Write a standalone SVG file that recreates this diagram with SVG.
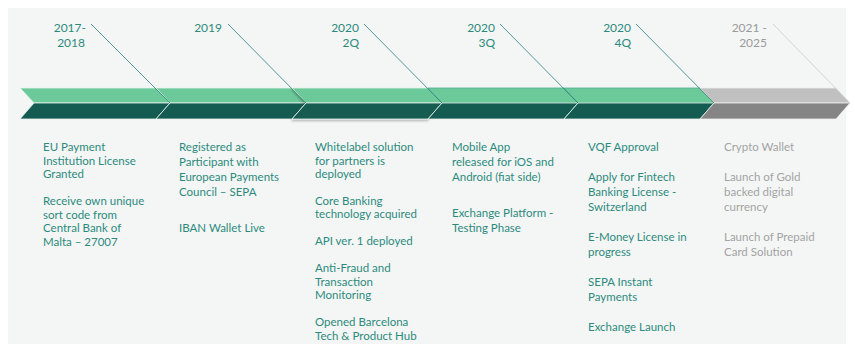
<svg xmlns="http://www.w3.org/2000/svg" width="855" height="344" viewBox="0 0 855 344">
<defs>
<style>
.lbl{font-family:Lato,"Noto Sans","Liberation Sans",sans-serif;font-size:12px;fill:#2c8a7c;text-anchor:end}
.lblg{font-family:Lato,"Noto Sans","Liberation Sans",sans-serif;font-size:12px;fill:#9a9a9a;text-anchor:end}
.txt{font-family:Lato,"Noto Sans","Liberation Sans",sans-serif;font-size:11.5px;fill:#2c8a7c}
.txtg{font-family:Lato,"Noto Sans","Liberation Sans",sans-serif;font-size:11.5px;fill:#a3a3a3}
.top{fill:#6cc99a;stroke:#e8f4ee;stroke-width:0.8}
.bot{fill:#145b51;stroke:#e8f4ee;stroke-width:0.8}
.topg{fill:#c0c0c0;stroke:#eeeeee;stroke-width:0.8}
.botg{fill:#858585;stroke:#eeeeee;stroke-width:0.8}
.ln{stroke:#2f7f74;stroke-width:0.8;fill:none}
.lng{stroke:#cccccc;stroke-width:0.8;fill:none}
</style>
<filter id="sh" x="-10%" y="-20%" width="120%" height="150%">
<feDropShadow dx="-0.5" dy="1.5" stdDeviation="0.8" flood-color="#000" flood-opacity="0.3"/>
</filter>
</defs>
<rect x="8" y="8" width="838" height="336" fill="#f4f6f6"/>

<g id="seg1">
<polygon class="top" points="20,88 156,88 170,103 34,103"/>
<polygon class="bot" points="34,103 170,103 156,119 20,119"/>
</g>
<g id="seg2">
<polygon class="top" points="156,88 292,88 306,103 170,103"/>
<polygon class="bot" points="170,103 306,103 292,119 156,119"/>
</g>
<g id="seg3" filter="url(#sh)">
<polygon class="top" points="292,88 428,88 442,103 306,103"/>
<polygon class="bot" points="306,103 442,103 428,119 292,119"/>
</g>
<g id="seg4">
<polygon class="top" points="428,88 564,88 578,103 442,103" style="stroke:#4fae92"/>
<polygon class="bot" points="442,103 578,103 564,119 428,119"/>
</g>
<g id="seg5">
<polygon class="top" points="564,88 700,88 714,103 578,103" style="stroke:#4fae92"/>
<polygon class="bot" points="578,103 714,103 700,119 564,119"/>
</g>
<g id="seg6">
<polygon class="topg" points="700,88 836,88 850,103 714,103"/>
<polygon class="botg" points="714,103 850,103 836,119 700,119"/>
</g>

<g id="connectors">
<line class="ln" x1="91" y1="24" x2="170" y2="103"/>
<line class="ln" x1="228" y1="24" x2="306" y2="103"/>
<line class="ln" x1="364" y1="24" x2="442" y2="103"/>
<line class="ln" x1="500" y1="24" x2="578" y2="103"/>
<line class="ln" x1="636" y1="24" x2="714" y2="103"/>
<line class="lng" x1="773" y1="24" x2="850" y2="103"/>
</g>

<g id="label1"><text class="lbl" x="86" y="32">2017-</text><text class="lbl" x="85" y="47">2018</text></g>
<g id="label2"><text class="lbl" x="222" y="32">2019</text></g>
<g id="label3"><text class="lbl" x="359" y="32">2020</text><text class="lbl" x="359" y="47">2Q</text></g>
<g id="label4"><text class="lbl" x="495" y="32">2020</text><text class="lbl" x="495" y="47">3Q</text></g>
<g id="label5"><text class="lbl" x="631" y="32">2020</text><text class="lbl" x="631" y="47">4Q</text></g>
<g id="label6"><text class="lblg" x="767" y="32">2021 -</text><text class="lblg" x="767" y="47">2025</text></g>

<g id="col1">
<text class="txt" x="43" y="151">EU Payment</text>
<text class="txt" x="43" y="164.5">Institution License</text>
<text class="txt" x="43" y="178">Granted</text>
<text class="txt" x="43" y="205">Receive own unique</text>
<text class="txt" x="43" y="218.5">sort code from</text>
<text class="txt" x="43" y="232">Central Bank of</text>
<text class="txt" x="43" y="245.5">Malta – 27007</text>
</g>
<g id="col2">
<text class="txt" x="179" y="151">Registered as</text>
<text class="txt" x="179" y="166">Participant with</text>
<text class="txt" x="179" y="181">European Payments</text>
<text class="txt" x="179" y="196">Council – SEPA</text>
<text class="txt" x="179" y="232">IBAN Wallet Live</text>
</g>
<g id="col3">
<text class="txt" x="315" y="151">Whitelabel solution</text>
<text class="txt" x="315" y="164.5">for partners is</text>
<text class="txt" x="315" y="178">deployed</text>
<text class="txt" x="315" y="204.5">Core Banking</text>
<text class="txt" x="315" y="218">technology acquired</text>
<text class="txt" x="315" y="245">API ver. 1 deployed</text>
<text class="txt" x="315" y="272">Anti-Fraud and</text>
<text class="txt" x="315" y="285.5">Transaction</text>
<text class="txt" x="315" y="299">Monitoring</text>
<text class="txt" x="315" y="326">Opened Barcelona</text>
<text class="txt" x="315" y="339.5">Tech &amp; Product Hub</text>
</g>
<g id="col4">
<text class="txt" x="452" y="151">Mobile App</text>
<text class="txt" x="452" y="166">released for iOS and</text>
<text class="txt" x="452" y="181">Android (fiat side)</text>
<text class="txt" x="452" y="216.5">Exchange Platform -</text>
<text class="txt" x="452" y="231.5">Testing Phase</text>
</g>
<g id="col5">
<text class="txt" x="588" y="151">VQF Approval</text>
<text class="txt" x="588" y="181">Apply for Fintech</text>
<text class="txt" x="588" y="196">Banking License -</text>
<text class="txt" x="588" y="211">Switzerland</text>
<text class="txt" x="588" y="241">E-Money License in</text>
<text class="txt" x="588" y="256">progress</text>
<text class="txt" x="588" y="286">SEPA Instant</text>
<text class="txt" x="588" y="301">Payments</text>
<text class="txt" x="588" y="330.5">Exchange Launch</text>
</g>
<g id="col6">
<text class="txtg" x="724" y="151">Crypto Wallet</text>
<text class="txtg" x="724" y="181">Launch of Gold</text>
<text class="txtg" x="724" y="196">backed digital</text>
<text class="txtg" x="724" y="211">currency</text>
<text class="txtg" x="724" y="241">Launch of Prepaid</text>
<text class="txtg" x="724" y="256">Card Solution</text>
</g>
</svg>
